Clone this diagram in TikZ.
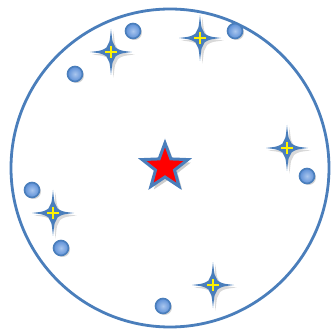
\documentclass[tikz,border=0pt]{standalone}
\usepackage{tikz}
\usetikzlibrary{shapes.geometric,shadows}
\definecolor{rimblue}{HTML}{4A7EBB}
\definecolor{balllight}{HTML}{A9C6EE}
\definecolor{balldark}{HTML}{5B8ED6}
\tikzset{
  ball/.style={circle,draw=rimblue,line width=1.6pt,inner sep=0pt,minimum size=15pt,
    inner color=balllight,outer color=balldark,
    drop shadow={opacity=0.35,shadow xshift=1.5pt,shadow yshift=-1.5pt}},
  bigstar/.style={star,star points=5,star point ratio=2.4,minimum size=48pt,inner sep=0pt,
    fill=red,draw=rimblue,line width=3pt,
    drop shadow={opacity=0.4,shadow xshift=3pt,shadow yshift=-3pt}},
  sparkle/.pic={
    \fill[rimblue,drop shadow={opacity=0.3,shadow xshift=2.5pt,shadow yshift=-2.5pt}]
      (0,-23) .. controls (1.5,-9) .. (4.5,-4.5) .. controls (9,-1.5) .. (21,0)
      .. controls (9,1.5) .. (4.5,4.5) .. controls (1.5,9) .. (0,23)
      .. controls (-1.5,9) .. (-4.5,4.5) .. controls (-9,1.5) .. (-21,0)
      .. controls (-9,-1.5) .. (-4.5,-4.5) .. controls (-1.5,-9) .. (0,-23) -- cycle;
    \draw[yellow,line width=1.5pt] (-6,0) -- (6,0) (0,-6) -- (0,6);
  }
}
\begin{document}
\begin{tikzpicture}[x=1pt,y=-1pt]
  \useasboundingbox (0,0) rectangle (332,331);
  % outer ring
  \node[circle,draw=rimblue,line width=2.8pt,minimum size=318pt,inner sep=0pt] (ring) at (170,168) {};
  % centre star
  \node[bigstar] (centre) at (165,167) {};
  % sparkles
  \pic (s1) at (111,52) {sparkle};
  \pic (s2) at (200,38) {sparkle};
  \pic (s3) at (287,148) {sparkle};
  \pic (s4) at (53,213) {sparkle};
  \pic (s5) at (213,285) {sparkle};
  % balls
  \node[ball] (b1) at (133,31) {};
  \node[ball] (b2) at (235,31) {};
  \node[ball] (b3) at (75,74) {};
  \node[ball] (b4) at (307,176) {};
  \node[ball] (b5) at (32,190) {};
  \node[ball] (b6) at (61,248) {};
  \node[ball] (b7) at (163,306) {};
\end{tikzpicture}
\end{document}
